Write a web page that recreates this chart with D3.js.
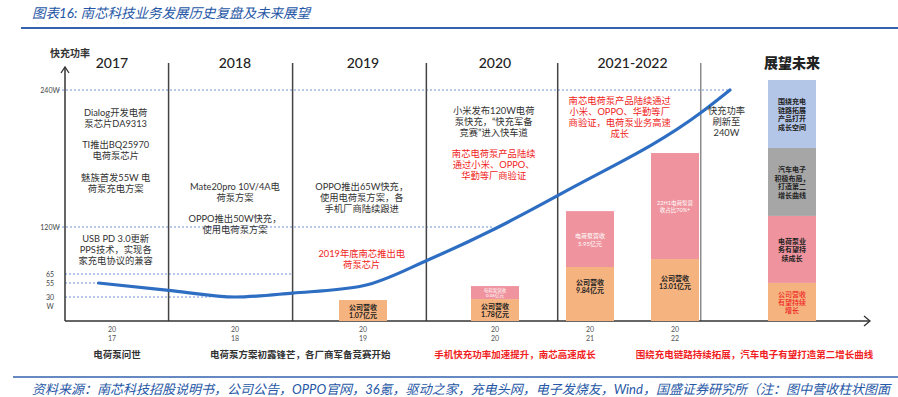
<!DOCTYPE html>
<html>
<head>
<meta charset="utf-8">
<script src="https://cdn.jsdelivr.net/npm/d3@7"></script>
<style>
    body { margin: 0; background: #fff; }
    svg text { font-family: Lato, "Noto Sans CJK SC", sans-serif; }
</style>
</head>
<body>
<div id="chart"></div>
<script>
// Chart frame
const WIDTH = 898, HEIGHT = 397;
const AXIS = { left: 65, right: 870, top: 63, bottom: 321 };

// Periods shown as columns (position on the time axis)
const periods = ["2017", "2018", "2019", "2020", "2021-2022", "展望未来"];
const periodAt = [2017, 2018, 2019, 2020, 2021.5, 2023];
const periodBreaks = [2017.46, 2018.45, 2019.48, 2020.66, 2022.22];
const tickYears = [2017, 2018, 2019, 2020, 2021, 2022];

// Fast charging power axis
const powerTicks = [240, 120, 65, 55, 30];
const powerLabels = ["240W", "120W", "65", "55", "30"];
const guideEnds = [2022.47, 2019.99, 2018.45, 2016.89, 2017.8];

// Fast charging power curve
const curveYears = [2016.89, 2017.5, 2018, 2018.45, 2019, 2019.5, 2020, 2020.76, 2022.22, 2022.47];
const curvePower = [55, 41, 30, 37, 50, 82, 118, 152, 220, 240];

// Revenue bars (schematic stack heights on a 0-100 index)
const barAt = [2019, 2020, 2021, 2022, 2023];
const barStacks = [[8.7], [9.1, 5.4], [22.4, 23.2], [25.7, 44.0], [15.8, 27.8, 28.2, 28.2]];
const barTexts = [
    [["公司营收", "1.07亿元"]],
    [["公司营收", "1.78亿元"], ["电荷泵营收", "0.06亿元"]],
    [["公司营收", "9.84亿元"], ["电荷泵营收", "5.95亿元"]],
    [["公司营收", "13.01亿元"], ["22H1电荷泵营", "收占比70%+"]],
    [["公司营收", "有望持续", "增长"], ["电荷泵业", "务有望持", "续成长"],
     ["汽车电子", "积极布局，", "打造第二", "增长曲线"], ["围绕充电", "链路拓展", "产品打开", "成长空间"]]
];

// Event notes per column
const noteAt = [2017.03, 2017.03, 2017.03, 2017.03, 2018, 2018, 2018.99, 2018.99, 2019.99, 2019.99, 2021.35, 2022.44];
const noteLines = [
    ["Dialog开发电荷", "泵芯片DA9313"],
    ["TI推出BQ25970", "电荷泵芯片"],
    ["魅族首发55W 电", "荷泵充电方案"],
    ["USB PD 3.0更新", "PPS技术，实现各", "家充电协议的兼容"],
    ["Mate20pro 10V/4A电", "荷泵方案"],
    ["OPPO推出50W快充，", "使用电荷泵方案"],
    ["OPPO推出65W快充，", "使用电荷泵方案，各", "手机厂商陆续跟进"],
    ["2019年底南芯推出电", "荷泵芯片"],
    ["小米发布120W电荷", "泵快充，“快充军备", "竞赛”进入快车道"],
    ["南芯电荷泵产品陆续", "通过小米、OPPO、", "华勤等厂商验证"],
    ["南芯电荷泵产品陆续通过", "小米、OPPO、华勤等厂", "商验证，电荷泵业务高速", "成长"],
    ["快充功率", "刷新至", "240W"]
];
const noteRed = [false, false, false, false, false, false, false, true, false, true, true, false];
const noteTop = [112, 144, 177, 238, 186, 218, 186, 253, 110, 153, 100, 110];

// Stage summaries under the axis
const stageAt = [2017.04, 2018.51, 2020.21, 2022.68];
const stageText = ["电荷泵问世", "电荷泵方案初露锋芒，各厂商军备竞赛开始",
    "手机快充功率加速提升，南芯高速成长", "围绕充电链路持续拓展，汽车电子有望打造第二增长曲线"];
const stageRed = [false, false, true, true];

const RED = "#f01e23";
const TEXT = "#333";
const SEG_COLORS = ["#f5b37f", "#ef949e", "#a6a6a6", "#b4c6e7"];

const svg = d3.select("#chart")
    .append("svg")
    .attr("width", WIDTH)
    .attr("height", HEIGHT);

// Scales
const x = d3.scaleLinear()
    .domain([2017, 2018, 2019, 2020, 2021, 2022, 2023])
    .range([112, 235, 363, 495, 590, 675, 792]);

const y = d3.scaleLinear()
    .domain([0, 30, 55, 65, 120, 240])
    .range([AXIS.bottom, 297, 283, 274, 227, 90]);

const yBar = d3.scaleLinear()
    .domain([0, 100])
    .range([AXIS.bottom, 80]);

// Title and rules
svg.append("text")
    .attr("x", 32).attr("y", 13)
    .attr("dominant-baseline", "central")
    .style("font-size", "13.5px")
    .style("font-style", "italic")
    .style("fill", "#2657a6")
    .text("图表16:  南芯科技业务发展历史复盘及未来展望");

svg.append("line")
    .attr("x1", 21).attr("x2", WIDTH)
    .attr("y1", 28).attr("y2", 28)
    .style("stroke", "#3462ad").style("stroke-width", 2);

svg.append("line")
    .attr("x1", 13).attr("x2", WIDTH)
    .attr("y1", 377).attr("y2", 377)
    .style("stroke", "#3462ad").style("stroke-width", 1.5);

svg.append("text")
    .attr("x", 32).attr("y", 389)
    .attr("dominant-baseline", "central")
    .attr("textLength", 858)
    .attr("lengthAdjust", "spacingAndGlyphs")
    .style("font-size", "13px")
    .style("font-style", "italic")
    .style("fill", "#2657a6")
    .text("资料来源：南芯科技招股说明书，公司公告，OPPO官网，36氪，驱动之家，充电头网，电子发烧友，Wind，国盛证券研究所（注：图中营收柱状图面");

// Dashed power guides
svg.selectAll(".guide")
    .data(powerTicks)
    .enter()
    .append("line")
    .attr("class", "guide")
    .attr("x1", (d, i) => i < 2 ? 58 : AXIS.left)
    .attr("x2", (d, i) => x(guideEnds[i]))
    .attr("y1", d => y(d))
    .attr("y2", d => y(d))
    .style("stroke", "#6e92d6")
    .style("stroke-width", 1)
    .style("stroke-dasharray", "2,2");

// Power labels
svg.selectAll(".plabel")
    .data(powerTicks)
    .enter()
    .append("text")
    .attr("class", "plabel")
    .attr("x", 50)
    .attr("y", d => y(d))
    .attr("text-anchor", "middle")
    .attr("dominant-baseline", "central")
    .style("font-size", "7px")
    .style("fill", "#444")
    .text((d, i) => powerLabels[i]);

svg.append("text")
    .attr("x", 50).attr("y", 306)
    .attr("text-anchor", "middle")
    .attr("dominant-baseline", "central")
    .style("font-size", "7px")
    .style("fill", "#444")
    .text("W");

svg.append("text")
    .attr("x", 70).attr("y", 53)
    .attr("text-anchor", "middle")
    .attr("dominant-baseline", "central")
    .style("font-size", "10px")
    .style("font-weight", 700)
    .style("fill", TEXT)
    .text("快充功率");

// Column separators
svg.selectAll(".sep")
    .data(periodBreaks)
    .enter()
    .append("line")
    .attr("class", "sep")
    .attr("x1", d => x(d)).attr("x2", d => x(d))
    .attr("y1", AXIS.top).attr("y2", AXIS.bottom)
    .style("stroke", (d, i) => i === periodBreaks.length - 1 ? "#8c8c8c" : "#444")
    .style("stroke-width", 1.5);

// Period headers
svg.selectAll(".period")
    .data(periods)
    .enter()
    .append("text")
    .attr("class", "period")
    .attr("x", (d, i) => x(periodAt[i]))
    .attr("y", 62)
    .attr("text-anchor", "middle")
    .attr("dominant-baseline", "central")
    .style("font-size", "14px")
    .style("font-weight", (d, i) => i === periods.length - 1 ? 900 : 500)
    .style("fill", "#222")
    .text(d => d);

// Axes with arrow heads
svg.append("line")
    .attr("x1", AXIS.left).attr("x2", AXIS.left)
    .attr("y1", 67).attr("y2", AXIS.bottom)
    .style("stroke", "#333").style("stroke-width", 1.5);
svg.append("polyline")
    .attr("points", `${AXIS.left - 4},73 ${AXIS.left},67 ${AXIS.left + 4},73`)
    .style("fill", "none").style("stroke", "#333").style("stroke-width", 1.3);
svg.append("line")
    .attr("x1", AXIS.left).attr("x2", AXIS.right)
    .attr("y1", AXIS.bottom).attr("y2", AXIS.bottom)
    .style("stroke", "#333").style("stroke-width", 1.5);
svg.append("polyline")
    .attr("points", `${AXIS.right - 6},${AXIS.bottom - 5} ${AXIS.right},${AXIS.bottom} ${AXIS.right - 6},${AXIS.bottom + 5}`)
    .style("fill", "none").style("stroke", "#333").style("stroke-width", 1.3);

// Year ticks, split in two lines
const ticks = svg.selectAll(".tick")
    .data(tickYears)
    .enter()
    .append("text")
    .attr("class", "tick")
    .attr("x", d => x(d))
    .attr("text-anchor", "middle")
    .style("font-size", "7px")
    .style("fill", "#555");
ticks.append("tspan").attr("x", d => x(d)).attr("y", 332).text(d => String(d).slice(0, 2));
ticks.append("tspan").attr("x", d => x(d)).attr("y", 341).text(d => String(d).slice(2));

// Revenue bars
const BAR_W = 48;
const revShift = [0, 0, -8, -8, 0];
barStacks.forEach((stack, bi) => {
    let base = 0;
    stack.forEach((h, si) => {
        const y0 = yBar(base), y1 = yBar(base + h);
        svg.append("rect")
            .attr("x", x(barAt[bi]) - BAR_W / 2)
            .attr("y", y1)
            .attr("width", BAR_W)
            .attr("height", y0 - y1)
            .style("fill", SEG_COLORS[si]);

        const lines = barTexts[bi][si];
        const future = bi === barStacks.length - 1;
        let size = 7, gap = 8, color = "#222", weight = 700;
        if (si === 1 && !future) {
            color = "#fff"; weight = 400;
            size = bi === 1 ? 4.5 : (bi === 2 ? 6 : 5.5);
            gap = bi === 1 ? 5 : (bi === 2 ? 8 : 7);
        }
        if (future && si === 0) { color = RED; weight = 500; }
        if (future) gap = 8.4;
        const mid = (y0 + y1) / 2 + (si === 0 ? revShift[bi] : 0);
        svg.selectAll(null)
            .data(lines)
            .enter()
            .append("text")
            .attr("x", x(barAt[bi]))
            .attr("y", (d, li) => mid + (li - (lines.length - 1) / 2) * gap)
            .attr("text-anchor", "middle")
            .attr("dominant-baseline", "central")
            .style("font-size", size + "px")
            .style("font-weight", weight)
            .style("fill", color)
            .text(d => d);
        base += h;
    });
});

// Power curve
const line = d3.line()
    .x(d => x(d[0]))
    .y(d => y(d[1]))
    .curve(d3.curveMonotoneX);

svg.append("path")
    .datum(curveYears.map((d, i) => [d, curvePower[i]]))
    .attr("d", line)
    .style("fill", "none")
    .style("stroke", "#2d6ec3")
    .style("stroke-width", 3.2)
    .style("stroke-linecap", "round");

// Event notes
noteLines.forEach((lines, ni) => {
    svg.selectAll(null)
        .data(lines)
        .enter()
        .append("text")
        .attr("x", x(noteAt[ni]))
        .attr("y", (d, li) => noteTop[ni] + li * 11.3)
        .attr("text-anchor", "middle")
        .attr("dominant-baseline", "central")
        .style("font-size", "9.3px")
        .style("fill", noteRed[ni] ? RED : TEXT)
        .text(d => d);
});

// Stage summaries
svg.selectAll(".stage")
    .data(stageText)
    .enter()
    .append("text")
    .attr("class", "stage")
    .attr("x", (d, i) => x(stageAt[i]))
    .attr("y", 354)
    .attr("text-anchor", "middle")
    .attr("dominant-baseline", "central")
    .style("font-size", "9.5px")
    .style("font-weight", 700)
    .style("fill", (d, i) => stageRed[i] ? RED : TEXT)
    .text(d => d);
</script>
</body>
</html>
